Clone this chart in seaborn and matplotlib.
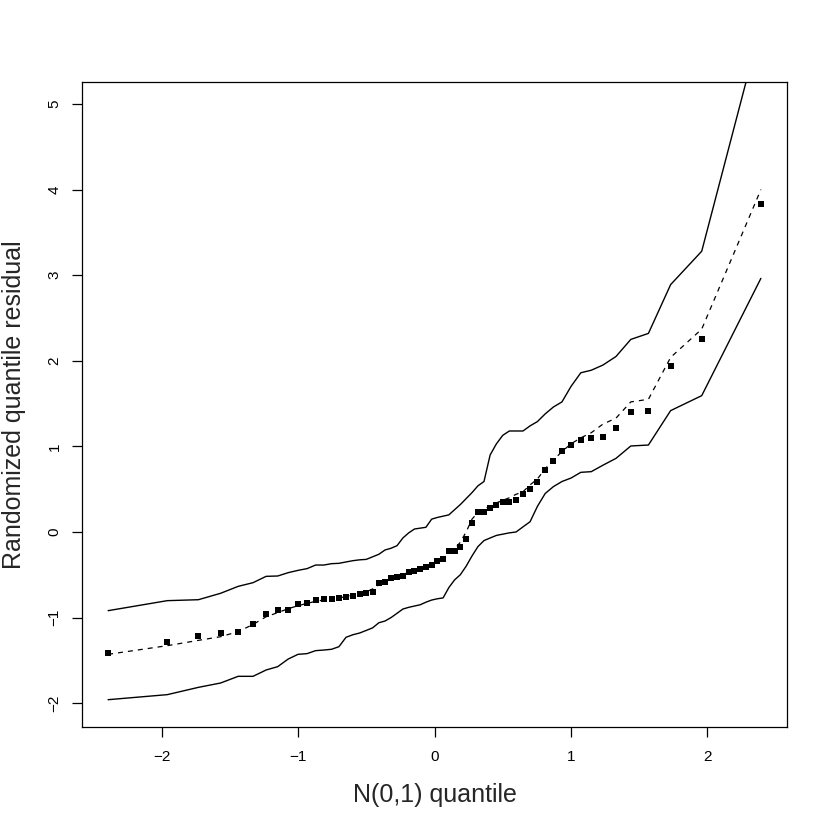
import matplotlib
matplotlib.use("Agg")
import matplotlib.pyplot as plt
import seaborn as sns
import pandas as pd

# theoretical N(0,1) quantiles (x positions)
quantiles = [-2.394, -1.960, -1.732, -1.569, -1.440, -1.331, -1.235, -1.150, -1.073, -1.001,
             -0.935, -0.872, -0.812, -0.755, -0.701, -0.649, -0.598, -0.549, -0.501, -0.454,
             -0.408, -0.363, -0.319, -0.275, -0.232, -0.189, -0.147, -0.105, -0.063, -0.021,
             0.021, 0.063, 0.105, 0.147, 0.189, 0.232, 0.275, 0.319, 0.363, 0.408,
             0.454, 0.501, 0.549, 0.598, 0.649, 0.701, 0.755, 0.812, 0.872, 0.935,
             1.001, 1.073, 1.150, 1.235, 1.331, 1.440, 1.569, 1.732, 1.960, 2.394]

# observed randomized quantile residuals (points)
residuals = [-1.414, -1.281, -1.211, -1.184, -1.164, -1.071, -0.958, -0.907, -0.907, -0.845,
             -0.826, -0.792, -0.788, -0.778, -0.767, -0.755, -0.744, -0.728, -0.716, -0.705,
             -0.600, -0.584, -0.541, -0.529, -0.517, -0.467, -0.455, -0.432, -0.410, -0.390,
             -0.334, -0.315, -0.222, -0.218, -0.171, -0.082, 0.109, 0.230, 0.238, 0.277,
             0.315, 0.350, 0.347, 0.378, 0.440, 0.506, 0.588, 0.728, 0.833, 0.942,
             1.016, 1.071, 1.102, 1.110, 1.215, 1.406, 1.414, 1.935, 2.255, 3.830]

# simulated envelope: median (dashed)
median_env = [-1.429, -1.328, -1.266, -1.223, -1.164, -1.080, -0.990, -0.942, -0.896, -0.861,
              -0.834, -0.810, -0.794, -0.779, -0.770, -0.755, -0.740, -0.725, -0.700, -0.665,
              -0.620, -0.585, -0.550, -0.525, -0.500, -0.470, -0.450, -0.430, -0.410, -0.385,
              -0.345, -0.310, -0.250, -0.200, -0.120, 0.000, 0.150, 0.230, 0.270, 0.300,
              0.340, 0.370, 0.400, 0.440, 0.470, 0.550, 0.620, 0.740, 0.840, 0.940,
              1.030, 1.100, 1.160, 1.260, 1.330, 1.520, 1.550, 2.040, 2.370, 4.000]

# upper envelope (solid)
upper_env = [-0.919, -0.802, -0.791, -0.716, -0.635, -0.592, -0.518, -0.514, -0.475, -0.448,
             -0.428, -0.386, -0.386, -0.370, -0.366, -0.350, -0.335, -0.325, -0.320, -0.290,
             -0.260, -0.210, -0.190, -0.160, -0.070, -0.010, 0.035, 0.045, 0.055, 0.150,
             0.170, 0.185, 0.200, 0.260, 0.320, 0.390, 0.460, 0.540, 0.590, 0.900,
             1.030, 1.130, 1.180, 1.180, 1.180, 1.240, 1.290, 1.380, 1.460, 1.520,
             1.700, 1.860, 1.890, 1.950, 2.050, 2.250, 2.320, 2.890, 3.280, 5.920]

# lower envelope (solid)
lower_env = [-1.959, -1.900, -1.815, -1.764, -1.686, -1.686, -1.612, -1.573, -1.484, -1.429,
             -1.421, -1.386, -1.379, -1.370, -1.340, -1.230, -1.200, -1.180, -1.150, -1.120,
             -1.060, -1.040, -1.000, -0.950, -0.900, -0.880, -0.865, -0.850, -0.820, -0.795,
             -0.780, -0.770, -0.650, -0.560, -0.500, -0.400, -0.280, -0.170, -0.100, -0.070,
             -0.040, -0.025, -0.010, 0.000, 0.060, 0.120, 0.300, 0.450, 0.530, 0.590,
             0.630, 0.697, 0.705, 0.780, 0.860, 1.005, 1.016, 1.418, 1.593, 2.963]

x_ticks = [-2, -1, 0, 1, 2]
y_ticks = [-2, -1, 0, 1, 2, 3, 4, 5]
x_label = "N(0,1) quantile"
y_label = "Randomized quantile residual"

sns.set_style("ticks")
plt.rcParams['font.family'] = ['Liberation Sans', 'DejaVu Sans']

df = pd.DataFrame({"q": quantiles, "res": residuals, "med": median_env,
                   "up": upper_env, "lo": lower_env})

fig = plt.figure(figsize=(8.3, 8.3), dpi=100)
ax = fig.add_axes([82 / 830, 103 / 830, 705 / 830, 645 / 830])

sns.lineplot(data=df, x="q", y="up", ax=ax, color="black", linewidth=1.0,
             sort=False, estimator=None)
sns.lineplot(data=df, x="q", y="lo", ax=ax, color="black", linewidth=1.0,
             sort=False, estimator=None)
sns.lineplot(data=df, x="q", y="med", ax=ax, color="black", linewidth=0.9,
             sort=False, estimator=None, dashes=False)
ax.lines[-1].set_dashes((4, 4))
sns.scatterplot(data=df, x="q", y="res", ax=ax, marker="s", color="black",
                s=14, linewidth=0, zorder=3)

ax.set_xlim(-2.5855, 2.5855)
ax.set_ylim(-2.278, 5.257)
ax.set_xticks(x_ticks)
ax.set_yticks(y_ticks)
ax.set_xticklabels([f"{t}".replace("-", "\u2212") for t in x_ticks])
ax.set_yticklabels([f"{t}".replace("-", "\u2212") for t in y_ticks],
                   rotation=90, va="center")
ax.tick_params(axis="both", direction="out", length=7.2, width=0.9,
               labelsize=11, color="black", labelcolor="black")
ax.tick_params(axis="x", pad=9.5)
ax.tick_params(axis="y", pad=7.5)
for sp in ax.spines.values():
    sp.set_visible(True)
    sp.set_linewidth(0.9)
    sp.set_color("black")

ax.set_xlabel(x_label, fontsize=18)
ax.set_ylabel(y_label, fontsize=18)
ax.xaxis.set_label_coords(0.5, -0.087)
ax.yaxis.set_label_coords(-0.079, 0.5)

fig.savefig("out.png", dpi=100, facecolor="white")
